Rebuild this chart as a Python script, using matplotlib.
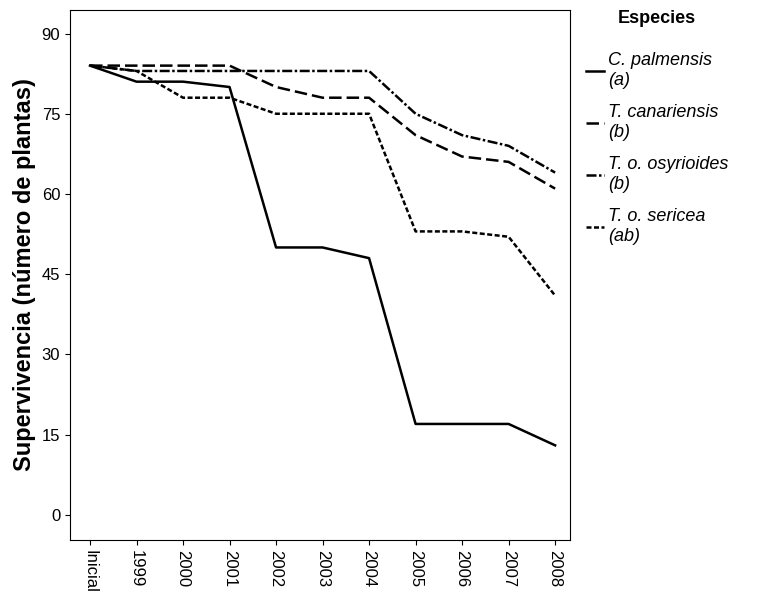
import matplotlib
matplotlib.use("Agg")
import matplotlib.pyplot as plt
import numpy as np

# datos
categorias = ['Inicial', '1999', '2000', '2001', '2002', '2003', '2004', '2005', '2006', '2007', '2008']
c_palmensis = [84, 81, 81, 80, 50, 50, 48, 17, 17, 17, 13]
t_canariensis = [84, 84, 84, 84, 80, 78, 78, 71, 67, 66, 61]
t_osyrioides = [84, 83, 83, 83, 83, 83, 83, 75, 71, 69, 64]
t_sericea = [84, 83, 78, 78, 75, 75, 75, 53, 53, 52, 41]
especies = ['C. palmensis\n(a)', 'T. canariensis\n(b)', 'T. o. osyrioides\n(b)', 'T. o. sericea\n(ab)']

plt.rcParams['font.family'] = ['Liberation Sans', 'DejaVu Sans']

fig = plt.figure(figsize=(7.63, 6.09), dpi=100)
ax = fig.add_axes([70/763, 69/609, 500/763, 530/609])
x = np.arange(len(categorias))

estilos = ['-', (0, (5, 2)), (0, (4, 1, 1, 1)), (0, (2, 1))]
series = [c_palmensis, t_canariensis, t_osyrioides, t_sericea]
for s, ls, lab in zip(series, estilos, especies):
    ax.plot(x, s, color='black', linestyle=ls, linewidth=1.8, label=lab)

ax.set_xlim(-0.43, 10.32)
ax.set_ylim(-4.7, 94.4)
ax.set_yticks(np.arange(0, 91, 15))
ax.set_xticks(x)
ax.set_xticklabels(categorias, rotation=-90, fontsize=12)
ax.tick_params(axis='y', labelsize=12)
ax.set_ylabel('Supervivencia (número de plantas)', fontsize=17, fontweight='bold')

leg = ax.legend(loc='upper left', bbox_to_anchor=(1.0, 1.03), frameon=False,
                title='Especies', fontsize=13, handlelength=1.0, handletextpad=0.2,
                labelspacing=0.85, borderaxespad=0.5)
leg.get_title().set_fontweight('bold')
leg.get_title().set_fontsize(13)
leg._legend_box.sep = 18
for t in leg.get_texts():
    t.set_fontstyle('italic')

fig.savefig('out.png', dpi=100)
